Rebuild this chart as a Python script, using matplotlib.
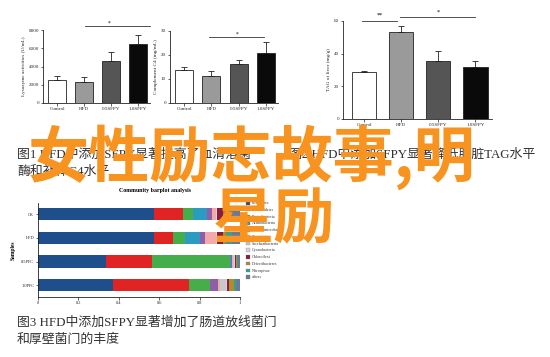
import matplotlib
matplotlib.use("Agg")
import matplotlib.pyplot as plt
from matplotlib.patches import Patch
import numpy as np

# ---------------- data ----------------
groups = ['Control', 'HFD', '0.5SFPY', '1.0SFPY']
lysozyme = [2550, 2350, 4650, 6450]
lysozyme_err = [400, 450, 900, 1050]
complement = [13.8, 11.3, 16.2, 21.0]
complement_err = [1.1, 2.0, 1.6, 4.5]
tag_liver = [28.7, 53.3, 35.8, 32.1]
tag_liver_err = [0.8, 3.7, 6.1, 3.3]

samples = ['CK', 'HFD', '0.5PFC', '1.0PFC']
phyla = ['Firmicutes', 'Bacteroidetes', 'Proteobacteria', 'Actinobacteria',
         'Verrucomicrobia', 'Tenericutes', 'Saccharibacteria', 'Cyanobacteria',
         'Chloroflexi', 'Deferribacteres', 'Nitrospirae', 'others']
firmicutes = [0.574, 0.574, 0.339, 0.369]
bacteroidetes = [0.142, 0.092, 0.226, 0.378]
proteobacteria = [0.053, 0.063, 0.385, 0.104]
actinobacteria = [0.069, 0.073, 0.004, 0.002]
verrucomicrobia = [0.022, 0.024, 0.006, 0.037]
tenericutes = [0.020, 0.054, 0.004, 0.012]
saccharibacteria = [0.002, 0.002, 0.008, 0.030]
cyanobacteria = [0.002, 0.002, 0.005, 0.005]
chloroflexi = [0.030, 0.030, 0.004, 0.008]
deferribacteres = [0.018, 0.018, 0.005, 0.025]
nitrospirae = [0.030, 0.030, 0.006, 0.012]
others = [0.038, 0.038, 0.008, 0.018]
abundances = [firmicutes, bacteroidetes, proteobacteria, actinobacteria,
              verrucomicrobia, tenericutes, saccharibacteria, cyanobacteria,
              chloroflexi, deferribacteres, nitrospirae, others]
phyla_colors = ['#1f4e8c', '#e02424', '#45ad4a', '#2a9bc1', '#8e5fa8', '#f3a9a9',
                '#c8c8c8', '#d8d0e0', '#8a1c3c', '#b58a2e', '#3a9e8f', '#68799e']

caption1 = ['图1 HFD中添加SFPY显著提高了血清溶菌', '酶和补体C4水平']
caption2 = '图2 HFD中添加SFPY显著降低肝脏TAG水平'
caption3 = ['图3 HFD中添加SFPY显著增加了肠道放线菌门', '和厚壁菌门的丰度']
overlay = ['女性励志故事,明', '星励']

# ---------------- layout helpers ----------------
W, H = 550, 357
fig = plt.figure(figsize=(W / 100, H / 100), dpi=100)
fig.patch.set_facecolor('white')

SERIF = ['Liberation Serif', 'DejaVu Serif']
CAP = ['Liberation Serif', 'Noto Sans CJK SC']
TXT = '#333333'


def ax_px(l, t, r, b):
    return fig.add_axes([l / W, 1 - b / H, (r - l) / W, (b - t) / H])


def style_small(ax):
    for s in ['top', 'right']:
        ax.spines[s].set_visible(False)
    for s in ['left', 'bottom']:
        ax.spines[s].set_linewidth(0.6)
        ax.spines[s].set_color('#222222')
    ax.tick_params(axis='both', labelsize=3.6, length=1.8, width=0.5, pad=1,
                   colors='#222222')
    for lab in ax.get_xticklabels() + ax.get_yticklabels():
        lab.set_family(SERIF)


bar_colors = ['white', '#9a9a9a', '#555555', '#0a0a0a']


def bar_panel(ax, vals, errs, ylim, yticks, ylabel, xlim):
    x = np.arange(len(groups))
    ax.bar(x, vals, width=0.66, color=bar_colors, edgecolor='#222222',
           linewidth=0.6, zorder=2)
    ax.errorbar(x, vals, yerr=[np.zeros(len(vals)), errs], fmt='none',
                ecolor='#222222', elinewidth=0.6, capsize=2.2, capthick=0.6,
                zorder=3)
    ax.set_xlim(*xlim)
    ax.set_ylim(*ylim)
    ax.set_yticks(yticks)
    ax.set_xticks(x)
    ax.set_xticklabels(groups)
    ax.set_ylabel(ylabel, fontsize=3.8, family=SERIF, labelpad=2, color='#222222')
    style_small(ax)


# Panel 1: lysozyme
ax1 = ax_px(43, 30, 150, 103)
bar_panel(ax1, lysozyme, lysozyme_err, (0, 8000), [0, 2000, 4000, 6000, 8000],
          'Lysozyme activities (U/mL)', (-0.52, 3.45))
ax1.plot([1.05, 3.45], [8450, 8450], color='#333333', lw=0.6, clip_on=False)
ax1.text(1.95, 8500, '*', fontsize=4, ha='center', va='bottom', family=SERIF)

# Panel 2: complement C4
ax2 = ax_px(170, 31, 278, 103)
bar_panel(ax2, complement, complement_err, (0, 30), [0, 10, 20, 30],
          'Complement C4 (mg/mL)', (-0.52, 3.45))
ax2.plot([0.9, 2.95], [27.5, 27.5], color='#333333', lw=0.6, clip_on=False)
ax2.text(1.95, 27.8, '*', fontsize=4, ha='center', va='bottom', family=SERIF)

# Panel 3: TAG of liver
ax3 = ax_px(343, 21, 492, 119)
bar_panel(ax3, tag_liver, tag_liver_err, (0, 60), [0, 20, 40, 60],
          'TAG of liver (mg/g)', (-0.57, 3.45))
ax3.plot([-0.05, 0.9], [60.0, 60.0], color='#333333', lw=0.6, clip_on=False)
ax3.text(0.42, 62.0, '**', fontsize=4.5, ha='center', va='bottom', family=SERIF)
ax3.plot([0.97, 3.0], [62.3, 62.3], color='#333333', lw=0.6, clip_on=False)
ax3.text(2.0, 63.8, '*', fontsize=4.5, ha='center', va='bottom', family=SERIF)

# Panel 4: community barplot
ax4 = ax_px(38, 203, 240, 297)
y = np.arange(len(samples))
left = np.zeros(len(samples))
for vals, col in zip(abundances, phyla_colors):
    ax4.barh(y, vals, left=left, height=0.52, color=col, edgecolor='none', zorder=2)
    left = left + np.array(vals)
ax4.set_ylim(3.5, -0.48)
ax4.set_xlim(0, 1)
ax4.set_yticks(y)
ax4.set_yticklabels(samples)
ax4.set_xticks([0, 0.2, 0.4, 0.6, 0.8, 1.0])
ax4.set_xticklabels(['0', '0.2', '0.4', '0.6', '0.8', '1'])
style_small(ax4)
ax4.tick_params(axis='both', labelsize=3.2)
ax4.set_ylabel('Samples', fontsize=4, family=SERIF, fontweight='bold', labelpad=4)
ax4.set_title('Community barplot analysis', fontsize=4.2, family=SERIF,
              fontweight='bold', pad=8, x=0.58)
handles = [Patch(facecolor=c, edgecolor='#777777', linewidth=0.2) for c in phyla_colors]
leg = fig.legend(handles, phyla, loc='upper left',
                 bbox_to_anchor=(244 / W, 1 - 199 / H), fontsize=3.0,
                 frameon=False, handlelength=0.9, handleheight=0.9,
                 handletextpad=0.5, labelspacing=0.62, borderpad=0)
for t in leg.get_texts():
    t.set_family(SERIF)
    t.set_color('#333333')

# ---------------- captions ----------------
fig.text(17 / W, 1 - 155 / H, caption1[0], fontsize=9.3, family=CAP, color=TXT,
         va='center', ha='left')
fig.text(17 / W, 1 - 172 / H, caption1[1], fontsize=9.3, family=CAP, color=TXT,
         va='center', ha='left')
fig.text(289 / W, 1 - 155 / H, caption2, fontsize=9.3, family=CAP, color=TXT,
         va='center', ha='left')
fig.text(17 / W, 1 - 323 / H, caption3[0], fontsize=9.3, family=CAP, color=TXT,
         va='center', ha='left')
fig.text(17 / W, 1 - 340 / H, caption3[1], fontsize=9.3, family=CAP, color=TXT,
         va='center', ha='left')

# ---------------- orange overlay ----------------
ORANGE = '#f7931e'
fig.text(28 / W, 1 - 157 / H, overlay[0], fontsize=44, family=['Noto Sans CJK SC'],
         fontweight='bold', color=ORANGE, va='center', ha='left', zorder=20)
fig.text(213 / W, 1 - 221 / H, overlay[1], fontsize=44, family=['Noto Sans CJK SC'],
         fontweight='bold', color=ORANGE, va='center', ha='left', zorder=20)

fig.savefig('out.png', dpi=100, facecolor='white')
